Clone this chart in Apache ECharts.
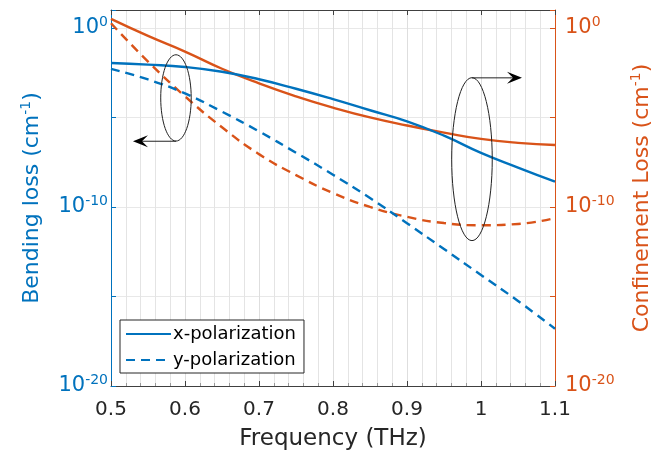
<!DOCTYPE html>
<html><head><meta charset="utf-8">
<script src="https://cdn.jsdelivr.net/npm/echarts@6/dist/echarts.min.js"></script>
<style>html,body{margin:0;padding:0;background:#fff}#c{width:655px;height:456px}</style>
</head><body><div id="c"></div>
<script>
// Frequency (THz)
const frequency = [0.5, 0.55, 0.6, 0.65, 0.7, 0.75, 0.8, 0.85, 0.9, 0.95, 1.0, 1.05, 1.1];
// log10 of loss (cm^-1)
const xPolBendingExp      = [-1.96, -2.05, -2.18, -2.45, -2.87, -3.40, -3.98, -4.60, -5.22, -6.02, -6.98, -7.80, -8.59];
const yPolBendingExp      = [-2.29, -2.88, -3.66, -4.68, -5.78, -6.97, -8.20, -9.50, -10.91, -12.35, -13.80, -15.25, -16.80];
const xPolConfinementExp  = [0.50, -0.45, -1.32, -2.28, -3.10, -3.82, -4.45, -5.00, -5.45, -5.85, -6.20, -6.42, -6.54];
const yPolConfinementExp  = [0.26, -1.88, -3.82, -5.55, -7.05, -8.22, -9.22, -10.00, -10.55, -10.90, -11.02, -10.95, -10.62];
const xTickLabels = ['0.5', '0.6', '0.7', '0.8', '0.9', '1', '1.1'];
const yLabelExponents = [0, -10, -20];
const legendNames = ['x-polarization', 'y-polarization'];
// annotations in data units: [freq, log10 loss]
const leftEllipse = {center: [0.5878, -3.91], rx: 0.0206, ry: 2.41};
const leftArrow = {from: [0.5878, -6.33], to: [0.5297, -6.33]};
const rightEllipse = {center: [0.9878, -7.33], rx: 0.0274, ry: 4.55};
const rightArrow = {from: [0.9878, -2.79], to: [1.0554, -2.79]};

const BLUE = '#0072BD', ORANGE = '#D95319', AXC = '#404040';
const FONT = 'DejaVu Sans';

function pairs(ys) { return frequency.map((f, i) => [f, ys[i]]); }

function yAxisDef(color, pos, name) {
  return {
    type: 'value', position: pos, min: -20, max: 1, interval: 5,
    name: '{a|' + name + ' (cm}{s|-1}{a|)}',
    nameLocation: 'middle', nameRotate: 90, nameGap: pos === 'left' ? 66 : 74,
    nameTextStyle: {color: color, fontFamily: FONT, rich: {
      a: {fontSize: 22, color: color, fontFamily: FONT},
      s: {fontSize: 14, color: color, fontFamily: FONT, padding: [0, 0, 12, 0]}
    }},
    axisLine: {show: true, lineStyle: {color: color, width: 1}},
    axisTick: {show: true, inside: true, length: 5, lineStyle: {color: color}},
    splitLine: {show: pos === 'left', lineStyle: {color: '#e8e8e8', width: 1}},
    axisLabel: {
      margin: pos === 'left' ? 3 : 10,
      formatter: function (v) {
        const e = Math.round(v);
        return yLabelExponents.indexOf(e) >= 0 ? '{b|10}{s|' + e + '}' : '';
      },
      rich: {
        b: {fontSize: 21, color: color, fontFamily: FONT},
        s: {fontSize: 14, color: color, fontFamily: FONT, padding: [0, 0, 12, 0]}
      }
    }
  };
}

const chart = echarts.init(document.getElementById('c'), null, {renderer: 'canvas'});
const option = {
  backgroundColor: '#fff',
  animation: false,
  grid: {left: 111, right: 100, top: 10, bottom: 70, containLabel: false, outerBoundsMode: 'none'},
  legend: {
    data: legendNames, orient: 'vertical', left: 120, top: 320,
    itemWidth: 45, itemHeight: 2, itemGap: 8, padding: [5, 8, 4, 5],
    borderColor: '#262626', borderWidth: 1, backgroundColor: '#fff',
    itemStyle: {opacity: 0},
    textStyle: {fontSize: 18, color: '#000', fontFamily: FONT, padding: [0, 0, 0, -3]}
  },
  xAxis: [{
    type: 'value', min: 0.5, max: 1.1, interval: 0.1, position: 'bottom',
    name: 'Frequency (THz)', nameLocation: 'middle', nameGap: 42,
    nameTextStyle: {fontSize: 23, color: '#262626', fontFamily: FONT},
    axisLine: {show: true, onZero: false, lineStyle: {color: AXC}},
    axisTick: {show: true, inside: true, length: 5, lineStyle: {color: AXC}},
    minorTick: {show: true, splitNumber: 5, length: 3, lineStyle: {color: '#999'}},
    splitLine: {show: true, lineStyle: {color: '#dedede'}},
    minorSplitLine: {show: true, lineStyle: {color: '#e4e4e4'}},
    axisLabel: {
      margin: 14, fontSize: 20, color: '#262626', fontFamily: FONT,
      formatter: function (v) { return xTickLabels[Math.round((v - 0.5) * 10)] || ''; }
    }
  }, {
    type: 'value', min: 0.5, max: 1.1, interval: 0.1, position: 'top',
    axisLine: {show: true, onZero: false, lineStyle: {color: AXC}},
    axisTick: {show: true, inside: true, length: 5, lineStyle: {color: AXC}},
    axisLabel: {show: false}, splitLine: {show: false}
  }],
  yAxis: [yAxisDef(BLUE, 'left', 'Bending loss'), yAxisDef(ORANGE, 'right', 'Confinement Loss')],
  series: [
    {name: 'x-polarization CL', type: 'line', yAxisIndex: 1, data: pairs(xPolConfinementExp), smooth: true, symbol: 'none',
      lineStyle: {color: ORANGE, width: 2.4}, itemStyle: {color: ORANGE}},
    {name: 'y-polarization CL', type: 'line', yAxisIndex: 1, data: pairs(yPolConfinementExp), smooth: true, symbol: 'none',
      lineStyle: {color: ORANGE, width: 2.4, type: [9, 6]}, itemStyle: {color: ORANGE}},
    {name: 'x-polarization', type: 'line', yAxisIndex: 0, data: pairs(xPolBendingExp), smooth: true, symbol: 'none',
      lineStyle: {color: BLUE, width: 2.4}, itemStyle: {color: BLUE}},
    {name: 'y-polarization', type: 'line', yAxisIndex: 0, data: pairs(yPolBendingExp), smooth: true, symbol: 'none',
      lineStyle: {color: BLUE, width: 2.4, type: [9, 6]}, itemStyle: {color: BLUE}}
  ]
};
chart.setOption(option);

function px(p) { return chart.convertToPixel({xAxisIndex: 0, yAxisIndex: 0}, p); }
function ellipseEl(e) {
  const c = px(e.center);
  const rxp = Math.abs(px([e.center[0] + e.rx, e.center[1]])[0] - c[0]);
  const ryp = Math.abs(px([e.center[0], e.center[1] + e.ry])[1] - c[1]);
  return {type: 'ellipse', shape: {cx: c[0], cy: c[1], rx: rxp, ry: ryp},
    style: {fill: 'none', stroke: '#222', lineWidth: 1}, z: 100};
}
function arrowEls(a) {
  const s = px(a.from), t = px(a.to);
  const dx = t[0] - s[0], dy = t[1] - s[1], len = Math.hypot(dx, dy);
  const ux = dx / len, uy = dy / len, nx = -uy, ny = ux;
  const L = 15, W = 6;
  return [
    {type: 'line', shape: {x1: s[0], y1: s[1], x2: t[0] - ux * L * 0.6, y2: t[1] - uy * L * 0.6},
      style: {stroke: '#222', lineWidth: 1}, z: 100},
    {type: 'polygon', shape: {points: [
      [t[0], t[1]],
      [t[0] - ux * L + nx * W, t[1] - uy * L + ny * W],
      [t[0] - ux * L * 0.6, t[1] - uy * L * 0.6],
      [t[0] - ux * L - nx * W, t[1] - uy * L - ny * W]
    ]}, style: {fill: '#000'}, z: 100}
  ];
}
chart.setOption({graphic: [ellipseEl(leftEllipse), ellipseEl(rightEllipse)]
  .concat(arrowEls(leftArrow)).concat(arrowEls(rightArrow))});
</script>
</body></html>
